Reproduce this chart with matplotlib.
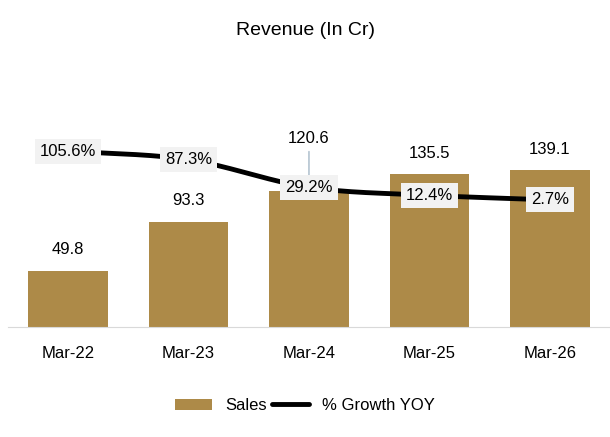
import matplotlib.pyplot as plt
import numpy as np

years = ["Mar-22", "Mar-23", "Mar-24", "Mar-25", "Mar-26"]
sales = [49.8, 93.3, 120.6, 135.5, 139.1]
growth = [105.6, 87.3, 29.2, 12.4, 2.7]

plt.rcParams['font.family'] = ['Liberation Sans', 'DejaVu Sans']
fig = plt.figure(figsize=(6.1, 4.37), dpi=100)
ax = fig.add_axes([0.013, 0.252, 0.987, 0.611])
x = np.arange(len(years))
bars = ax.bar(x, sales, width=0.66, color='#AD8A48', label='Sales')
ax.set_ylim(0, 237)
ax.set_xlim(-0.5, 4.5)
for s in ['top', 'right', 'left']:
    ax.spines[s].set_visible(False)
ax.spines['bottom'].set_color('#d9d9d9')
ax.set_yticks([])
ax.set_xticks(x)
ax.set_xticklabels(years, fontsize=12)
ax.tick_params(axis='x', length=0, pad=14)
for i, v in enumerate(sales):
    if i == 2:
        ax.annotate(f"{v}", (i, v), xytext=(i, v + 40), ha='center', va='bottom', fontsize=12,
                    arrowprops=dict(arrowstyle='-', color='#a6b8c8', lw=1))
    else:
        ax.text(i, v + 12, f"{v}", ha='center', va='bottom', fontsize=12)

ax2 = ax.twinx()
ax2.set_ylim(-264.6, 297.5)
ax2.axis('off')
# smooth curve through points (cubic Hermite, monotone-ish)
xs = np.linspace(0, 4, 200)
from numpy.polynomial import polynomial as P
def smooth(xp, yp, xq):
    m = np.gradient(yp, xp)
    out = []
    for q in xq:
        k = min(int(q), len(xp) - 2)
        t = q - k
        h00 = 2*t**3 - 3*t**2 + 1; h10 = t**3 - 2*t**2 + t
        h01 = -2*t**3 + 3*t**2; h11 = t**3 - t**2
        out.append(h00*yp[k] + h10*m[k] + h01*yp[k+1] + h11*m[k+1])
    return np.array(out)
ys = smooth(x.astype(float), np.array(growth), xs)
line, = ax2.plot(xs, ys, color='black', lw=3.5, label='% Growth YOY', solid_capstyle='round')
for i, g in enumerate(growth):
    ax2.text(i, g, f"{g}%", ha='center', va='center', fontsize=12,
             bbox=dict(boxstyle='square,pad=0.3', fc='#f2f2f2', ec='none'))

fig.legend([bars, line], ['Sales', '% Growth YOY'], loc='lower center', ncol=2,
           frameon=False, fontsize=12, bbox_to_anchor=(0.5, 0.02), handlelength=2.2,
           columnspacing=0.3)
fig.text(0.5, 0.93, "Revenue (In Cr)", ha='center', va='center', fontsize=14)
fig.savefig('out.png', dpi=100)
